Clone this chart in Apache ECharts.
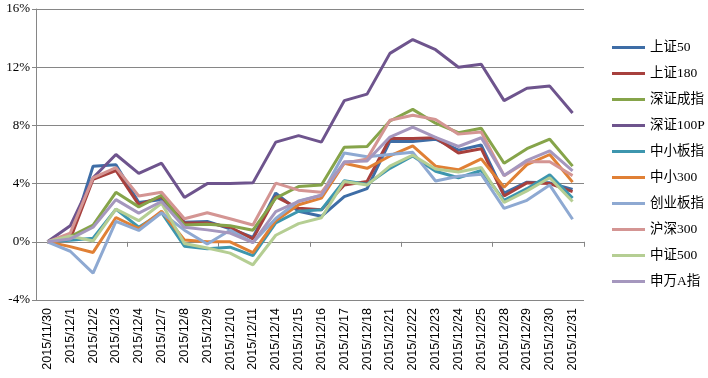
<!DOCTYPE html>
<html>
<head>
<meta charset="utf-8">
<script src="https://cdn.jsdelivr.net/npm/echarts@6/dist/echarts.min.js"></script>
<style>html,body{margin:0;padding:0;background:#fff;}#c{width:708px;height:378px;}</style>
</head>
<body>
<div id="c"></div>
<script>
var categories = ['2015/11/30','2015/12/1','2015/12/2','2015/12/3','2015/12/4','2015/12/7','2015/12/8','2015/12/9','2015/12/10','2015/12/11','2015/12/14','2015/12/15','2015/12/16','2015/12/17','2015/12/18','2015/12/21','2015/12/22','2015/12/23','2015/12/24','2015/12/25','2015/12/28','2015/12/29','2015/12/30','2015/12/31'];
var seriesNames = ['上证50','上证180','深证成指','深证100P','中小板指','中小300','创业板指','沪深300','中证500','申万A指'];
var seriesColors = ['#3E6DA6','#A7403D','#86A44A','#6E548D','#3D96AE','#E08035','#8EA9D2','#D49593','#B5CE93','#A597BE'];
var sz50   = [0,0.2,5.2,5.3,2.7,2.9,1.35,1.4,0.9,0.3,3.35,2.1,1.75,3.1,3.65,6.9,6.9,7.05,6.3,6.65,3.35,4.1,4.05,3.6];
var sz180  = [0,0.2,4.3,4.9,2.55,3.1,1.3,1.3,1.0,0.2,3.1,2.3,2.2,3.9,4.15,7.1,7.1,7.15,6.1,6.4,3.15,4.05,4.0,3.45];
var szcz   = [0,0.35,1.15,3.4,2.4,3.2,1.15,1.2,1.1,0.8,3.0,3.8,3.9,6.5,6.55,8.3,9.1,8.15,7.5,7.8,5.4,6.4,7.05,5.2];
var sz100p = [0,1.1,4.4,6.0,4.7,5.4,3.05,4.0,4.0,4.05,6.85,7.3,6.85,9.7,10.15,12.95,13.9,13.2,12.0,12.2,9.7,10.55,10.7,8.85];
var zxbz   = [0,0.1,0.25,2.25,1.0,2.0,-0.3,-0.48,-0.37,-0.95,1.3,2.1,2.2,4.2,3.95,5.05,5.9,4.85,4.4,4.9,2.85,3.65,4.6,3.0];
var zx300  = [0,-0.33,-0.73,1.67,0.9,2.1,0.12,0.0,0.0,-0.75,1.45,2.55,3.0,5.4,5.05,5.9,6.6,5.2,4.95,5.7,3.75,5.3,6.0,4.1];
var cybz   = [0,-0.65,-2.15,1.4,0.78,2.0,0.8,-0.15,0.8,-0.05,1.6,2.8,3.2,6.1,5.85,6.0,6.15,4.18,4.5,4.65,2.3,2.85,3.9,1.55];
var hs300  = [0,0.6,4.4,5.1,3.15,3.4,1.58,2.0,1.58,1.15,4.03,3.55,3.4,5.4,5.7,8.35,8.7,8.4,7.4,7.55,4.55,5.5,5.5,4.55];
var zz500  = [0,0.4,0.05,2.25,1.45,2.65,-0.12,-0.43,-0.78,-1.58,0.45,1.25,1.65,4.15,3.9,5.2,5.95,5.0,4.8,5.1,2.7,3.5,4.4,2.77];
var swa    = [0,0.2,1.0,2.9,1.97,2.77,1.0,0.82,0.6,-0.05,2.08,2.77,3.2,5.5,5.56,7.2,7.88,7.17,6.55,7.15,4.55,5.6,6.25,4.88];
var yTicks = [-4,0,4,8,12,16];

var allData = [sz50,sz180,szcz,sz100p,zxbz,zx300,cybz,hs300,zz500,swa];
var series = allData.map(function(d,i){
  return {name: seriesNames[i], type:'line', data:d, symbol:'none', xAxisIndex:0,
    lineStyle:{width:3,color:seriesColors[i]}, itemStyle:{color:seriesColors[i]}};
});
var chart = echarts.init(document.getElementById('c'));
chart.setOption({
  animation:false,
  backgroundColor:'#fff',
  grid:{left:36,right:124,top:9,bottom:78},
  legend:{orient:'vertical',left:607,top:35,icon:'rect',itemWidth:33,itemHeight:3,itemGap:11,
    data:seriesNames,
    textStyle:{fontSize:13.5,lineHeight:15,color:'#000',fontFamily:'"Liberation Serif","Noto Sans CJK SC",serif'}},
  xAxis:[
    {type:'category',data:categories,position:'bottom',boundaryGap:true,
     axisLine:{show:false,onZero:false},axisTick:{show:false},
     axisLabel:{rotate:90,interval:0,margin:8,fontSize:12.5,color:'#000',fontFamily:'"Liberation Sans",Arial,sans-serif'}},
    {type:'category',data:categories,position:'bottom',boundaryGap:true,
     axisLine:{show:true,onZero:true,lineStyle:{color:'#868686',width:1}},
     axisTick:{show:true,length:5,lineStyle:{color:'#868686'}},
     axisLabel:{show:false}}
  ],
  yAxis:{type:'value',min:-4,max:16,interval:4,
    axisLine:{show:true,lineStyle:{color:'#868686'}},
    axisTick:{show:true,length:4,lineStyle:{color:'#868686'}},
    splitLine:{lineStyle:{color:'#868686',width:1}},
    axisLabel:{formatter:function(v){return yTicks.indexOf(v)>=0? v+'%':'';},fontSize:13,color:'#000',margin:6,
      fontFamily:'"Liberation Serif","Times New Roman",serif'}},
  series:series
});
</script>
</body>
</html>
